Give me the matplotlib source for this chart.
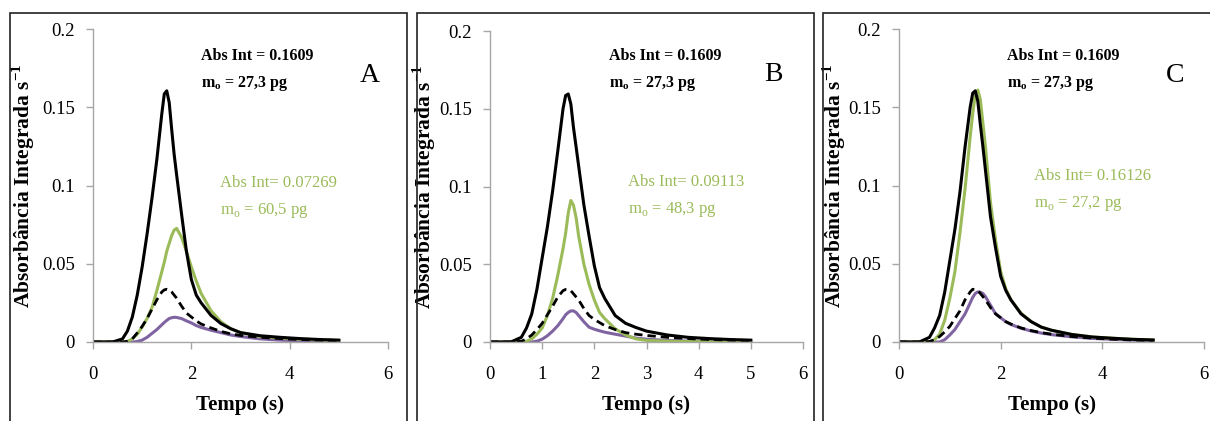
import matplotlib
matplotlib.use("Agg")
import matplotlib.pyplot as plt
from matplotlib.patches import Rectangle

# time grid (s), shared by every curve
tempo = [0, 0.4, 0.6, 0.7, 0.8, 0.9, 1.0, 1.1, 1.2, 1.3, 1.4, 1.45, 1.5, 1.55,
         1.6, 1.65, 1.7, 1.8, 1.9, 2.0, 2.1, 2.2, 2.4, 2.6, 2.8, 3.0, 3.4, 3.8,
         4.2, 4.6, 5.0]

# panel A
ref_a = [0, 0, 0.002, 0.007, 0.016, 0.030, 0.048, 0.069, 0.092, 0.117, 0.146, 0.1585,
         0.1605, 0.153, 0.136, 0.120, 0.107, 0.082, 0.058, 0.040, 0.030, 0.025, 0.017,
         0.0118, 0.0085, 0.006, 0.004, 0.003, 0.0022, 0.0016, 0.0012]
green_a = [0, 0, 0, 0.0003, 0.002, 0.005, 0.0095, 0.015, 0.022, 0.033, 0.045, 0.051,
           0.058, 0.063, 0.068, 0.0715, 0.0726, 0.067, 0.058, 0.048, 0.039, 0.031, 0.020,
           0.013, 0.0085, 0.006, 0.0035, 0.0025, 0.0018, 0.0013, 0.001]
dash_a = [0, 0, 0, 0.0005, 0.002, 0.0058, 0.010, 0.015, 0.021, 0.027, 0.032, 0.0333,
          0.0337, 0.0333, 0.032, 0.030, 0.028, 0.023, 0.0185, 0.016, 0.0135, 0.0115,
          0.009, 0.0068, 0.0052, 0.0042, 0.003, 0.0022, 0.0016, 0.0012, 0.001]
purple_a = [0, 0, 0, 0, 0, 0.0003, 0.0012, 0.003, 0.0055, 0.008, 0.011, 0.0125,
            0.0138, 0.015, 0.0155, 0.0158, 0.0157, 0.015, 0.0135, 0.0122, 0.0105,
            0.0093, 0.0075, 0.006, 0.0045, 0.0035, 0.002, 0.0012, 0.0008, 0.0005, 0.0003]

# panel B
ref_b = [0, 0, 0.003, 0.009, 0.018, 0.034, 0.054, 0.074, 0.097, 0.123, 0.150, 0.1585,
         0.1595, 0.153, 0.138, 0.1256, 0.113, 0.088, 0.068, 0.049, 0.035, 0.028, 0.017,
         0.012, 0.0093, 0.007, 0.0045, 0.003, 0.0022, 0.0016, 0.0012]
green_b = [0, 0, 0, 0.0005, 0.002, 0.005, 0.009, 0.017, 0.028, 0.043, 0.060, 0.070,
           0.083, 0.091, 0.088, 0.080, 0.068, 0.050, 0.037, 0.027, 0.019, 0.015, 0.0085,
           0.0045, 0.002, 0.001, 0.0005, 0.0003, 0.0002, 0.0001, 0.0]
dash_b = [0, 0, 0.0005, 0.002, 0.0045, 0.008, 0.012, 0.0175, 0.023, 0.029, 0.033,
          0.0338, 0.0337, 0.033, 0.031, 0.029, 0.027, 0.0215, 0.017, 0.0145, 0.0125,
          0.0105, 0.008, 0.006, 0.005, 0.0042, 0.003, 0.0022, 0.0016, 0.0012, 0.001]
purple_b = [0, 0, 0, 0, 0, 0.0005, 0.0018, 0.004, 0.007, 0.0105, 0.015, 0.0175, 0.019,
            0.020, 0.020, 0.019, 0.017, 0.013, 0.0095, 0.0082, 0.0072, 0.0063, 0.005,
            0.0038, 0.0025, 0.0018, 0.001, 0.0006, 0.0004, 0.0002, 0.0001]

# panel C
ref_c = [0, 0, 0.003, 0.009, 0.017, 0.032, 0.052, 0.072, 0.096, 0.1248, 0.150, 0.159,
         0.1605, 0.154, 0.139, 0.125, 0.110, 0.080, 0.060, 0.042, 0.033, 0.027, 0.018,
         0.013, 0.0095, 0.0075, 0.0048, 0.0032, 0.0024, 0.0017, 0.0013]
green_c = [0, 0, 0, 0.0015, 0.005, 0.014, 0.028, 0.045, 0.070, 0.098, 0.131, 0.146,
           0.158, 0.161, 0.155, 0.140, 0.125, 0.089, 0.065, 0.045, 0.034, 0.027, 0.0185,
           0.013, 0.0095, 0.0075, 0.0048, 0.0032, 0.0024, 0.0017, 0.0013]
dash_c = [0, 0, 0.0003, 0.0015, 0.0035, 0.0065, 0.010, 0.015, 0.020, 0.027, 0.032,
          0.0337, 0.0335, 0.033, 0.031, 0.029, 0.027, 0.022, 0.018, 0.0155, 0.013,
          0.0115, 0.009, 0.0073, 0.006, 0.005, 0.0035, 0.0025, 0.0018, 0.0013, 0.001]
purple_c = [0, 0, 0, 0, 0, 0.0015, 0.0045, 0.008, 0.013, 0.018, 0.025, 0.0285, 0.031,
            0.032, 0.0318, 0.031, 0.029, 0.0235, 0.018, 0.0155, 0.013, 0.0112, 0.0088,
            0.007, 0.0057, 0.0047, 0.0033, 0.0023, 0.0017, 0.0012, 0.0009]

letters = ["A", "B", "C"]
green_labels = ["Abs Int= 0.07269", "Abs Int= 0.09113", "Abs Int= 0.16126"]
green_mass = ["60,5", "48,3", "27,2"]
y_ticks = [0, 0.05, 0.1, 0.15, 0.2]
y_ticklabels = ["0", "0.05", "0.1", "0.15", "0.2"]

GREEN = "#9BBB59"
PURPLE = "#8064A2"
GRAY = "#A6A6A6"

plt.rcParams["font.family"] = ["Liberation Serif", "DejaVu Serif"]
plt.rcParams["mathtext.fontset"] = "custom"
plt.rcParams["mathtext.rm"] = "Liberation Serif"
plt.rcParams["mathtext.bf"] = "Liberation Serif:bold"

fig = plt.figure(figsize=(12.1, 4.21), dpi=100)
W, H = 1210.0, 421.0

# axes boxes in pixels: left, right, top, bottom
boxes = [(93, 388, 29, 342), (490, 803, 31, 342), (899, 1204, 29, 342)]
frames = [(10, 407), (417, 814), (823, 1215)]
x_steps = [2, 1, 2]
ylabel_x = [-0.19, -0.165, -0.168]
# annotation anchors (data coords)
black_txt = [(2.2, 0.183), (2.28, 0.184), (2.12, 0.183)]
green_txt = [(2.58, 0.1016), (2.64, 0.103), (2.66, 0.106)]
letter_pos = [(5.63, 0.1706), (5.44, 0.172), (5.43, 0.1706)]

series = [(ref_a, green_a, dash_a, purple_a),
          (ref_b, green_b, dash_b, purple_b),
          (ref_c, green_c, dash_c, purple_c)]

for i in range(3):
    l, r, t, b = boxes[i]
    ax = fig.add_axes([l / W, (H - b) / H, (r - l) / W, (b - t) / H])
    ref, green, dash, purple = series[i]

    ax.plot(tempo, purple, color=PURPLE, lw=2.2, solid_joinstyle="round")
    ax.plot(tempo, green, color=GREEN, lw=2.2, solid_joinstyle="round")
    ax.plot(tempo, dash, color="black", lw=2.0, linestyle=(0, (3, 1.8)))
    ax.plot(tempo, ref, color="black", lw=2.2, solid_joinstyle="round")

    ax.set_xlim(0, 6)
    ax.set_ylim(0, 0.2)
    ax.set_xticks(range(0, 7, x_steps[i]))
    ax.set_yticks(y_ticks)
    ax.set_yticklabels(y_ticklabels)
    ax.tick_params(labelsize=13.5, color=GRAY, length=5, width=1)
    ax.tick_params(axis="x", pad=12)
    ax.tick_params(axis="y", pad=8)
    for side in ["top", "right"]:
        ax.spines[side].set_visible(False)
    for side in ["left", "bottom"]:
        ax.spines[side].set_color(GRAY)
        ax.spines[side].set_linewidth(1)

    ax.set_xlabel("Tempo (s)", fontsize=15, fontweight="bold", labelpad=9)
    ax.set_ylabel("Absorbância Integrada s$^{\\mathbf{-1}}$", fontsize=15.5,
                  fontweight="bold")
    ax.yaxis.set_label_coords(ylabel_x[i], 0.5)

    bx, by = black_txt[i]
    ax.text(bx, by, "Abs Int = 0.1609", fontsize=11.5, fontweight="bold",
            va="center", ha="left")
    ax.text(bx, by - 0.018, "$\\mathbf{m_o}$ = 27,3 pg", fontsize=11.5,
            fontweight="bold", va="center", ha="left")
    gx, gy = green_txt[i]
    ax.text(gx, gy, green_labels[i], fontsize=12, color=GREEN, va="center", ha="left")
    ax.text(gx, gy - 0.0175, "m$_\\mathrm{o}$ = " + green_mass[i] + " pg", fontsize=12,
            color=GREEN, va="center", ha="left")
    lx, ly = letter_pos[i]
    ax.text(lx, ly, letters[i], fontsize=20, va="center", ha="center")

    fl, fr = frames[i]
    fig.patches.append(Rectangle((fl / W, -0.05), (fr - fl) / W, (H - 13) / H + 0.05,
                                 transform=fig.transFigure, fill=False,
                                 edgecolor="#222222", linewidth=1.2))

fig.savefig("out.png", dpi=100)
